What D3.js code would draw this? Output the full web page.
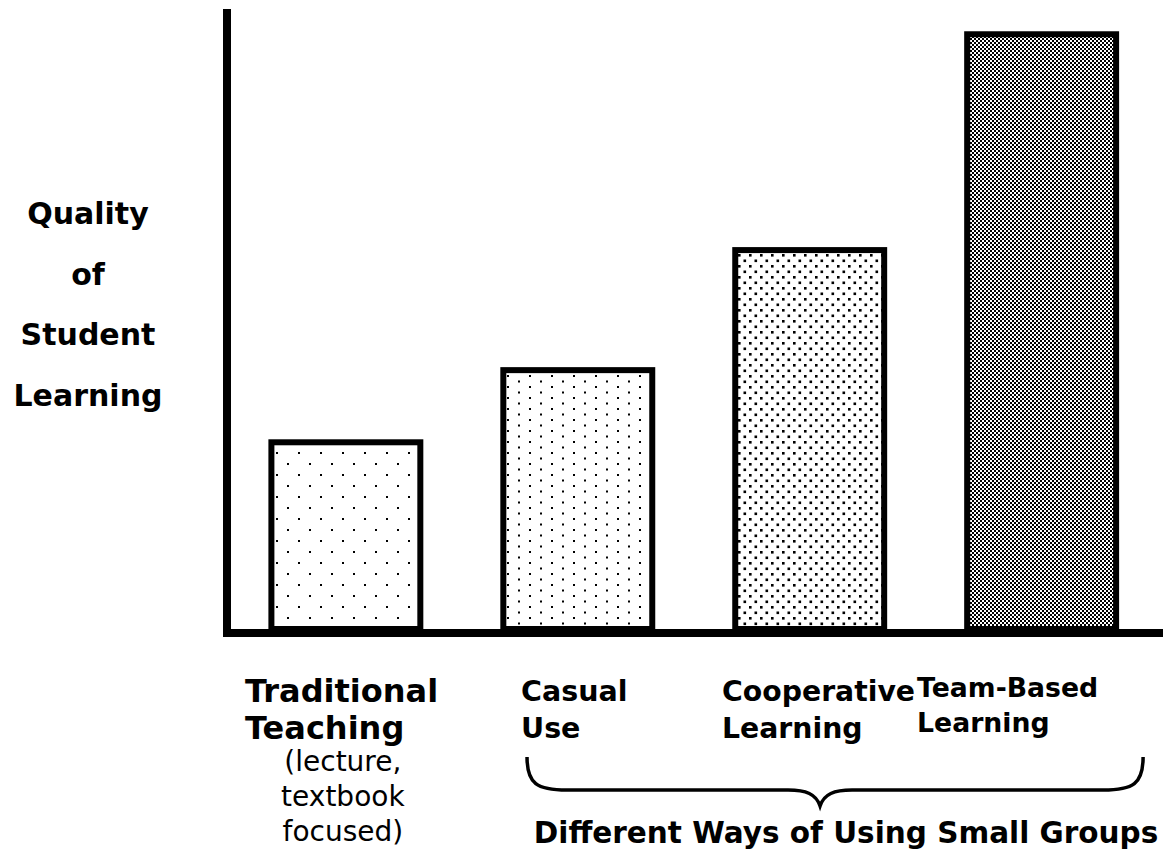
<!DOCTYPE html>
<html>
<head>
<meta charset="utf-8">
<script src="https://cdn.jsdelivr.net/npm/d3@7"></script>
<style>
  html, body { margin: 0; padding: 0; background: #fff; }
  svg { display: block; }
  text { font-family: "DejaVu Sans", Verdana, sans-serif; fill: #000; }
</style>
</head>
<body>
<svg id="chart"></svg>
<script>
'use strict';

// data (arbitrary 0-100 "quality" scale)
const categories = ["Traditional Teaching", "Casual Use", "Cooperative Learning", "Team-Based Learning"];
const values = [30.5, 42.1, 61.4, 96.1];
const labelLines = [["Traditional", "Teaching"], ["Casual", "Use"], ["Cooperative", "Learning"], ["Team-Based", "Learning"]];
const noteLines = ["(lecture,", "textbook", "focused)"];
const yLabelLines = ["Quality", "of", "Student", "Learning"];
const groupTitle = "Different Ways of Using Small Groups";

const WIDTH = 1163;
const HEIGHT = 859;
const BASE_Y = 629;
const TOP_Y = 7;
const AXIS_W = 8;
const BAR_STROKE = 6;

var svg = d3.select("#chart")
    .attr("width", WIDTH)
    .attr("height", HEIGHT);

var x = d3.scaleBand()
    .domain(categories)
    .range([268.4, 1119.1])
    .paddingInner(0.332)
    .paddingOuter(0);

var y = d3.scaleLinear()
    .domain([0, 100])
    .range([BASE_Y, TOP_Y]);

// fill patterns, getting denser from left to right
var defs = svg.append("defs");

function dotPattern(id, w, h, size, dots) {
    var p = defs.append("pattern")
        .attr("id", id)
        .attr("patternUnits", "userSpaceOnUse")
        .attr("width", w)
        .attr("height", h);
    p.append("rect").attr("width", w).attr("height", h).attr("fill", "#fff");
    dots.forEach(function (d) {
        p.append("rect")
            .attr("x", d[0]).attr("y", d[1])
            .attr("width", size).attr("height", size)
            .attr("fill", "#000");
    });
}

dotPattern("p0", 22, 22, 2, [[1, 1], [12, 12]]);
dotPattern("p1", 22, 11, 2, [[1, 1], [12, 6.5]]);
dotPattern("p2", 11, 11, 2.6, [[1, 1], [6.5, 6.5]]);
dotPattern("p3", 4, 4, 2, [[0, 0], [2, 2]]);

// bars
svg.selectAll(".bar")
    .data(categories)
    .enter()
    .append("rect")
    .attr("class", "bar")
    .attr("x", function (d) { return x(d) + BAR_STROKE / 2; })
    .attr("y", function (d, i) { return y(values[i]) + BAR_STROKE / 2; })
    .attr("width", x.bandwidth() - BAR_STROKE)
    .attr("height", function (d, i) { return BASE_Y - y(values[i]) - BAR_STROKE / 2; })
    .attr("fill", function (d, i) { return "url(#p" + i + ")"; })
    .attr("stroke", "#000")
    .attr("stroke-width", BAR_STROKE);

// axes (plain thick lines, no ticks)
svg.append("line")
    .attr("x1", 227).attr("x2", 227)
    .attr("y1", 9).attr("y2", BASE_Y + AXIS_W)
    .attr("stroke", "#000")
    .attr("stroke-width", AXIS_W);

svg.append("line")
    .attr("x1", 223).attr("x2", WIDTH)
    .attr("y1", BASE_Y + AXIS_W / 2).attr("y2", BASE_Y + AXIS_W / 2)
    .attr("stroke", "#000")
    .attr("stroke-width", AXIS_W);

// y label
svg.append("g")
    .selectAll("text")
    .data(yLabelLines)
    .enter()
    .append("text")
    .attr("x", 88)
    .attr("y", function (d, i) { return 224 + i * 60.5; })
    .attr("text-anchor", "middle")
    .attr("font-weight", "bold")
    .attr("font-size", 30)
    .text(function (d) { return d; });

// category labels
var labelDx = [-23.4, 20.7, -10.2, -47.1];
var labelSize = [32, 28.5, 28.3, 26.7];
var labelBase = [702, 701, 701, 697];
var labelGap = [37, 37, 37, 35];

var labels = svg.append("g")
    .selectAll("text")
    .data(categories)
    .enter()
    .append("text")
    .attr("font-weight", "bold")
    .attr("font-size", function (d, i) { return labelSize[i]; })
    .attr("x", function (d, i) { return x(d) + labelDx[i]; })
    .attr("y", function (d, i) { return labelBase[i]; });

labels.selectAll("tspan")
    .data(function (d, i) { return labelLines[i].map(function (t) { return {t: t, i: i, d: d}; }); })
    .enter()
    .append("tspan")
    .attr("x", function (o) { return x(o.d) + labelDx[o.i]; })
    .attr("dy", function (o, j) { return j === 0 ? 0 : labelGap[o.i]; })
    .text(function (o) { return o.t; });

svg.append("g")
    .selectAll("text")
    .data(noteLines)
    .enter()
    .append("text")
    .attr("x", x(categories[0]) + x.bandwidth() / 2 - 3)
    .attr("y", function (d, i) { return 771 + i * 35; })
    .attr("text-anchor", "middle")
    .attr("font-size", 28)
    .text(function (d) { return d; });

// curly brace under the three small-group bars
var bx0 = x(categories[1]) + 26.7;
var bx1 = x(categories[3]) + x.bandwidth() + 24;
var bmid = (bx0 + bx1) / 2 - 15;
var bTop = 757, bLine = 790, bTip = 806;

var brace = d3.path();
brace.moveTo(bx0, bTop);
brace.bezierCurveTo(bx0, bLine - 6, bx0 + 10, bLine, bx0 + 40, bLine);
brace.lineTo(bmid - 32, bLine);
brace.bezierCurveTo(bmid - 14, bLine, bmid - 4, bLine + 4, bmid, bTip);
brace.bezierCurveTo(bmid + 4, bLine + 4, bmid + 14, bLine, bmid + 32, bLine);
brace.lineTo(bx1 - 40, bLine);
brace.bezierCurveTo(bx1 - 10, bLine, bx1, bLine - 6, bx1, bTop);

svg.append("path")
    .attr("d", brace.toString())
    .attr("fill", "none")
    .attr("stroke", "#000")
    .attr("stroke-width", 3.5);

svg.append("text")
    .attr("x", bmid + 26)
    .attr("y", 843)
    .attr("text-anchor", "middle")
    .attr("font-weight", "bold")
    .attr("font-size", 29.5)
    .text(groupTitle);
</script>
</body>
</html>
